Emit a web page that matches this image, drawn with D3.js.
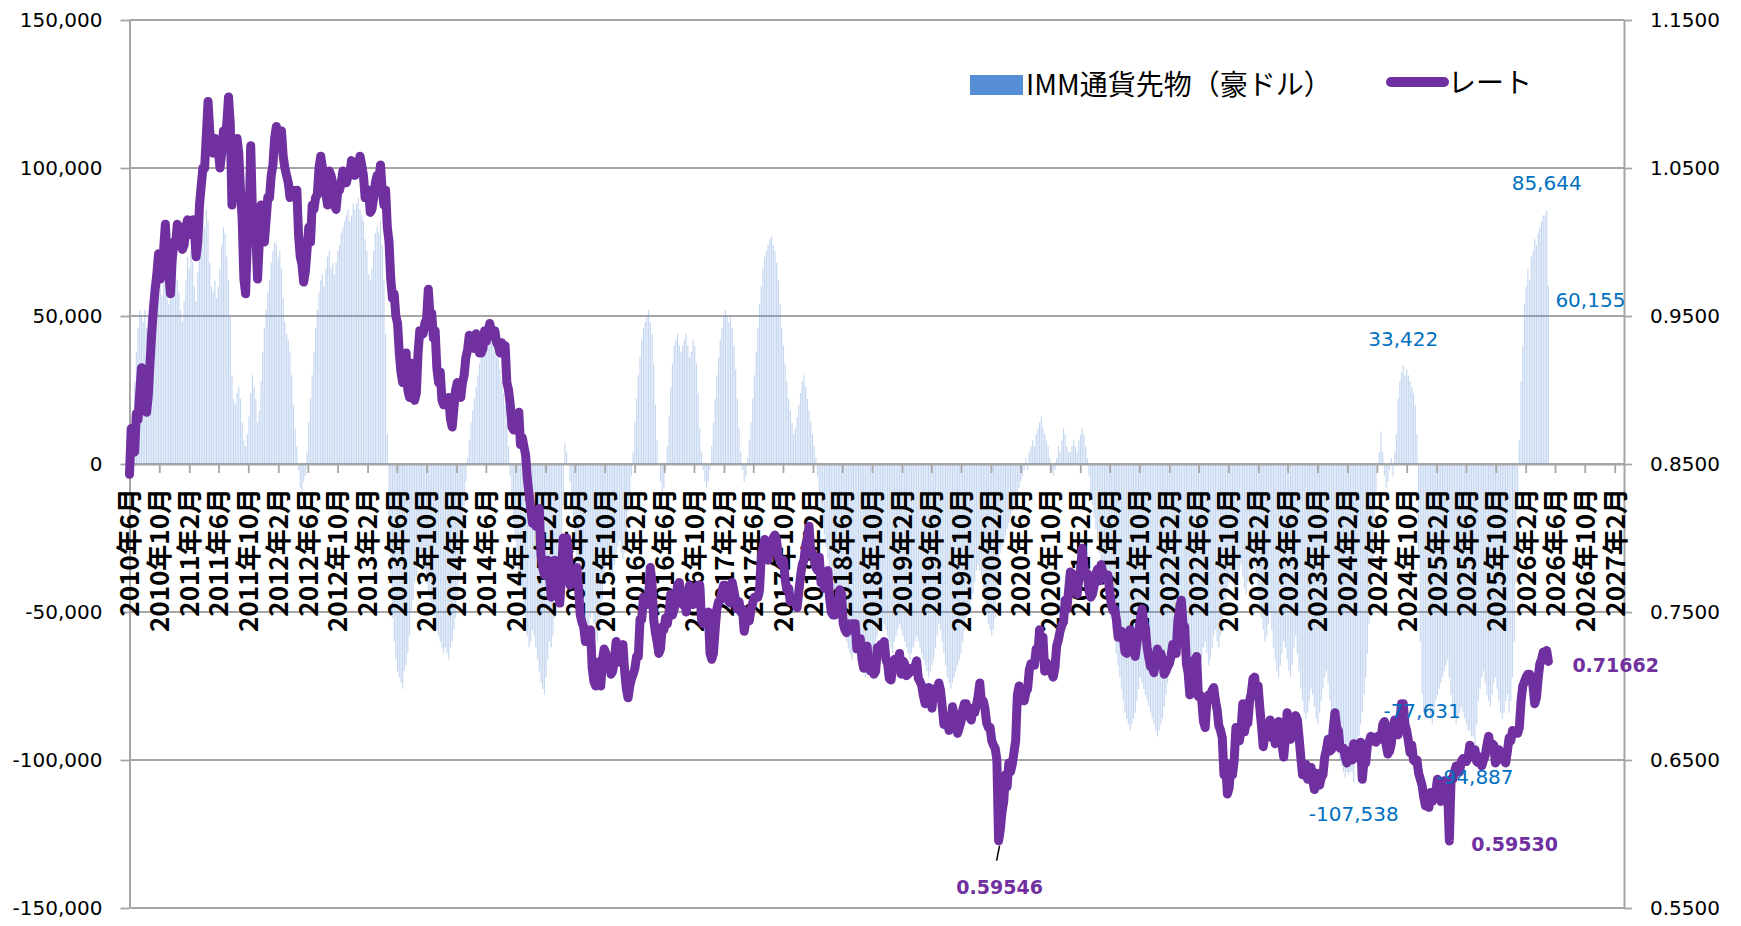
<!DOCTYPE html>
<html lang="ja">

<head>
    <meta charset="utf-8">
    <script src="https://d3js.org/d3.v7.min.js"></script>
    <style>
        body { margin: 0; background: #fff; }
    </style>
</head>

<body>
    <script>
        // IMM通貨先物（豪ドル）weekly net position, in thousands of contracts (Tuesday data)
        const imm2010 = [0, 8, 18, 28, 38, 46, 52, 50, 48, 52, 46, 50, 54, 56, 58, 55, 60, 58, 62, 57, 68, 74, 62, 54, 56, 60, 64, 66, 62];
        const imm2011 = [58, 52, 48, 55, 62, 70, 66, 72, 68, 60, 55, 65, 72, 78, 84, 80, 86, 82, 68, 60, 58, 62, 56, 60, 66, 74, 80, 78, 70, 62, 50, 30, 22, 20, 24, 26, 22, 14, 8, 6, 10, 16, 24, 30, 26, 22, 14, 18, 28, 38, 46, 52];
        const imm2012 = [58, 62, 68, 72, 75, 74, 70, 72, 66, 56, 48, 44, 42, 38, 30, 20, 12, 6, -2, -8, -10, -6, -4, 4, 14, 22, 30, 38, 46, 52, 58, 62, 64, 60, 66, 70, 72, 66, 68, 64, 68, 72, 74, 78, 80, 82, 84, 86, 82, 84, 88, 86];
        const imm2013 = [88, 90, 86, 84, 82, 76, 72, 64, 62, 66, 72, 78, 80, 78, 82, 74, 62, 44, 10, -20, -40, -52, -60, -66, -70, -72, -74, -76, -70, -68, -64, -58, -50, -46, -40, -38, -34, -30, -32, -34, -36, -40, -44, -46, -48, -50, -54, -56, -58, -60, -62, -64, -62];
        const imm2014 = [-64, -66, -62, -60, -56, -52, -46, -40, -32, -24, -14, -6, 2, 8, 14, 18, 22, 26, 30, 34, 38, 40, 44, 48, 46, 44, 42, 40, 38, 36, 36, 32, 28, 24, 20, 14, 6, -4, -12, -20, -26, -30, -36, -40, -44, -50, -54, -58, -62, -60, -56, -58];
        const imm2015 = [-62, -66, -70, -74, -76, -78, -72, -66, -60, -62, -58, -52, -48, -44, -36, -26, -14, 7, 4, 0, -6, -12, -18, -26, -32, -38, -42, -46, -50, -52, -54, -56, -52, -50, -54, -58, -60, -56, -52, -46, -40, -34, -30, -32, -36, -38, -34, -30, -28, -26, -30, -32];
        const imm2016 = [-30, -24, -16, -10, -4, 4, 14, 22, 30, 36, 42, 46, 48, 50, 52, 48, 44, 34, 20, 8, 0, -6, -10, -8, -2, 6, 16, 26, 34, 40, 42, 44, 40, 38, 40, 42, 44, 40, 36, 38, 42, 40, 34, 24, 12, 4, -2, -6, -8, -6, -2, 6];
        const imm2017 = [14, 22, 30, 36, 42, 46, 50, 52, 50, 48, 50, 46, 40, 32, 22, 12, 4, -2, -6, -4, 2, 8, 14, 22, 30, 38, 46, 54, 60, 66, 70, 72, 74, 76, 77, 74, 72, 68, 62, 54, 46, 40, 34, 28, 22, 18, 14, 10, 12, 16, 20, 24];
        const imm2018 = [28, 30, 26, 22, 18, 14, 10, 6, 2, -4, -10, -16, -20, -24, -28, -32, -36, -40, -44, -46, -48, -50, -52, -54, -56, -58, -60, -62, -64, -66, -64, -62, -60, -64, -66, -68, -70, -72, -70, -68, -66, -64, -62, -60, -58, -56, -54, -52, -54, -56, -58, -60];
        const imm2019 = [-62, -64, -60, -58, -56, -54, -56, -58, -60, -62, -64, -66, -64, -62, -60, -58, -60, -62, -64, -66, -68, -70, -72, -70, -68, -66, -62, -58, -54, -56, -60, -64, -68, -72, -74, -76, -74, -72, -70, -68, -66, -64, -60, -56, -52, -50, -48, -46, -44, -40, -36, -34, -36];
        const imm2020 = [-38, -42, -46, -50, -54, -56, -58, -56, -52, -44, -36, -30, -28, -26, -24, -22, -20, -18, -16, -14, -12, -10, -8, -6, -4, -2, 2, -2, 4, 6, 8, 6, 10, 12, 14, 16, 12, 10, 8, 6, 2, -2, -4, -2, 2, 6, 4, 8, 12, 10, 6, 4];
        const imm2021 = [4, 6, 8, 6, 4, 8, 10, 12, 10, 6, 2, -4, -10, -14, -18, -22, -26, -30, -34, -36, -38, -40, -44, -48, -52, -56, -60, -64, -68, -72, -76, -80, -84, -86, -88, -90, -88, -86, -84, -80, -76, -72, -74, -76, -78, -80, -82, -84, -86, -88, -90, -92];
        const imm2022 = [-90, -88, -86, -82, -78, -74, -70, -66, -62, -58, -54, -50, -48, -52, -58, -62, -66, -70, -72, -74, -76, -78, -76, -74, -70, -66, -62, -60, -64, -68, -66, -62, -58, -56, -60, -62, -58, -54, -50, -46, -42, -40, -38, -40, -42, -44, -40, -36, -34, -38, -42, -44];
        const imm2023 = [-40, -36, -32, -30, -34, -38, -44, -48, -52, -56, -60, -58, -54, -50, -56, -62, -66, -70, -72, -68, -64, -60, -62, -66, -70, -72, -68, -62, -58, -64, -70, -76, -80, -84, -86, -84, -80, -76, -78, -82, -86, -88, -84, -80, -76, -72, -70, -74, -80, -86, -90, -92];
        const imm2024 = [-94, -98, -100, -102, -104, -106, -104, -105, -104, -104, -107.538, -100, -96, -92, -88, -84, -78, -72, -64, -54, -44, -32, -22, -10, -2, 4, 11, 4, -4, -8, -6, -2, 2, -4, 4, 10, 22, 28, 31, 33.422, 30, 32, 30, 28, 26, 24, 20, 10, -30, -60, -77.631, -84, -86];
        const imm2025 = [-84, -82, -86, -88, -84, -80, -78, -76, -74, -72, -70, -68, -66, -72, -78, -82, -86, -88, -86, -84, -82, -84, -86, -88, -90, -90, -92, -92, -94.887, -88, -80, -76, -72, -70, -74, -78, -80, -82, -78, -74, -72, -76, -80, -84, -86, -84, -80, -78, -84, -80, -72, -60];
        const imm2026 = [-40, -10, 8, 28, 40, 54, 60, 66, 62, 70, 72, 76, 74, 78, 80, 82, 84, 84, 85.644, 60.155];

        // レート (AUD/USD) on the same Tuesdays
        const rate2010 = [0.843, 0.874, 0.860, 0.858, 0.884, 0.880, 0.898, 0.915, 0.905, 0.898, 0.885, 0.896, 0.918, 0.938, 0.955, 0.968, 0.978, 0.992, 0.975, 0.985, 0.995, 1.012, 0.990, 0.978, 0.965, 0.988, 1.000, 0.998, 1.012];
        const rate2011 = [1.010, 0.998, 0.995, 0.998, 1.010, 1.015, 1.005, 1.012, 1.015, 1.008, 0.990, 1.000, 1.025, 1.038, 1.050, 1.050, 1.072, 1.095, 1.075, 1.062, 1.060, 1.070, 1.065, 1.062, 1.050, 1.060, 1.075, 1.072, 1.080, 1.098, 1.080, 1.025, 1.050, 1.050, 1.070, 1.060, 1.035, 1.015, 0.975, 0.965, 1.000, 1.010, 1.065, 1.020, 1.010, 1.005, 0.975, 1.000, 1.025, 1.005, 1.000, 1.015];
        const rate2012 = [1.030, 1.030, 1.045, 1.052, 1.070, 1.078, 1.068, 1.070, 1.075, 1.058, 1.050, 1.045, 1.040, 1.030, 1.032, 1.035, 1.030, 1.035, 1.005, 0.990, 0.985, 0.973, 0.980, 0.995, 1.010, 1.000, 1.025, 1.022, 1.030, 1.032, 1.050, 1.058, 1.050, 1.045, 1.033, 1.025, 1.048, 1.045, 1.040, 1.025, 1.022, 1.035, 1.035, 1.040, 1.048, 1.040, 1.040, 1.045, 1.045, 1.055, 1.052, 1.045];
        const rate2013 = [1.050, 1.050, 1.058, 1.052, 1.045, 1.030, 1.030, 1.035, 1.020, 1.022, 1.030, 1.040, 1.045, 1.042, 1.052, 1.035, 1.025, 1.035, 1.010, 1.000, 0.975, 0.962, 0.965, 0.950, 0.945, 0.925, 0.912, 0.905, 0.920, 0.925, 0.900, 0.895, 0.918, 0.900, 0.893, 0.898, 0.925, 0.940, 0.940, 0.938, 0.945, 0.948, 0.968, 0.950, 0.952, 0.935, 0.940, 0.915, 0.905, 0.912, 0.893, 0.890, 0.892];
        const rate2014 = [0.892, 0.895, 0.880, 0.875, 0.888, 0.900, 0.905, 0.897, 0.895, 0.905, 0.910, 0.922, 0.927, 0.937, 0.935, 0.932, 0.928, 0.938, 0.935, 0.925, 0.925, 0.928, 0.940, 0.933, 0.940, 0.945, 0.938, 0.936, 0.940, 0.932, 0.930, 0.925, 0.932, 0.928, 0.930, 0.905, 0.900, 0.890, 0.875, 0.873, 0.873, 0.880, 0.885, 0.863, 0.868, 0.862, 0.856, 0.840, 0.830, 0.820, 0.810, 0.818];
        const rate2015 = [0.808, 0.817, 0.820, 0.788, 0.780, 0.775, 0.782, 0.785, 0.775, 0.760, 0.762, 0.785, 0.762, 0.765, 0.756, 0.775, 0.800, 0.792, 0.800, 0.790, 0.768, 0.772, 0.778, 0.776, 0.780, 0.766, 0.748, 0.743, 0.740, 0.730, 0.733, 0.735, 0.738, 0.712, 0.703, 0.700, 0.716, 0.706, 0.700, 0.718, 0.725, 0.722, 0.712, 0.718, 0.708, 0.710, 0.718, 0.730, 0.722, 0.716, 0.722, 0.728];
        const rate2016 = [0.710, 0.698, 0.692, 0.700, 0.705, 0.708, 0.712, 0.720, 0.720, 0.745, 0.745, 0.760, 0.760, 0.755, 0.760, 0.780, 0.770, 0.745, 0.736, 0.730, 0.722, 0.725, 0.740, 0.738, 0.746, 0.742, 0.750, 0.762, 0.748, 0.752, 0.760, 0.768, 0.770, 0.762, 0.755, 0.762, 0.750, 0.760, 0.768, 0.762, 0.755, 0.765, 0.764, 0.768, 0.768, 0.745, 0.742, 0.748, 0.748, 0.750, 0.722, 0.718];
        const rate2017 = [0.722, 0.738, 0.752, 0.757, 0.758, 0.764, 0.768, 0.768, 0.765, 0.757, 0.756, 0.770, 0.764, 0.758, 0.752, 0.757, 0.750, 0.752, 0.737, 0.744, 0.747, 0.744, 0.752, 0.756, 0.760, 0.760, 0.760, 0.765, 0.788, 0.793, 0.799, 0.790, 0.785, 0.792, 0.795, 0.800, 0.802, 0.798, 0.787, 0.785, 0.782, 0.785, 0.772, 0.765, 0.766, 0.757, 0.758, 0.758, 0.758, 0.753, 0.764, 0.774];
        const rate2018 = [0.782, 0.785, 0.795, 0.800, 0.808, 0.790, 0.790, 0.785, 0.780, 0.778, 0.787, 0.770, 0.770, 0.766, 0.776, 0.778, 0.760, 0.750, 0.748, 0.748, 0.758, 0.755, 0.765, 0.762, 0.742, 0.738, 0.736, 0.742, 0.738, 0.742, 0.742, 0.742, 0.725, 0.732, 0.732, 0.718, 0.712, 0.725, 0.727, 0.713, 0.710, 0.714, 0.708, 0.710, 0.726, 0.722, 0.728, 0.722, 0.730, 0.718, 0.715, 0.705];
        const rate2019 = [0.704, 0.712, 0.718, 0.712, 0.715, 0.722, 0.708, 0.717, 0.715, 0.707, 0.708, 0.710, 0.712, 0.710, 0.713, 0.717, 0.705, 0.703, 0.700, 0.693, 0.688, 0.692, 0.699, 0.691, 0.685, 0.698, 0.698, 0.695, 0.702, 0.697, 0.686, 0.674, 0.678, 0.676, 0.670, 0.672, 0.686, 0.680, 0.676, 0.668, 0.672, 0.676, 0.684, 0.688, 0.688, 0.684, 0.679, 0.677, 0.685, 0.682, 0.687, 0.693, 0.702];
        const rate2020 = [0.688, 0.690, 0.685, 0.675, 0.672, 0.672, 0.663, 0.660, 0.658, 0.650, 0.59546, 0.603, 0.615, 0.622, 0.640, 0.632, 0.648, 0.642, 0.647, 0.655, 0.663, 0.694, 0.700, 0.690, 0.696, 0.690, 0.696, 0.698, 0.711, 0.715, 0.714, 0.714, 0.725, 0.721, 0.738, 0.720, 0.733, 0.710, 0.716, 0.713, 0.712, 0.709, 0.706, 0.712, 0.727, 0.731, 0.737, 0.741, 0.743, 0.758, 0.752, 0.764];
        const rate2021 = [0.777, 0.776, 0.773, 0.772, 0.762, 0.772, 0.778, 0.793, 0.780, 0.774, 0.776, 0.764, 0.760, 0.762, 0.768, 0.776, 0.779, 0.771, 0.782, 0.777, 0.775, 0.774, 0.775, 0.765, 0.755, 0.751, 0.752, 0.745, 0.733, 0.737, 0.737, 0.734, 0.723, 0.722, 0.731, 0.738, 0.734, 0.725, 0.720, 0.729, 0.736, 0.745, 0.752, 0.743, 0.739, 0.726, 0.719, 0.713, 0.713, 0.709, 0.718, 0.725];
        const rate2022 = [0.720, 0.722, 0.718, 0.708, 0.710, 0.713, 0.715, 0.720, 0.728, 0.728, 0.722, 0.744, 0.752, 0.758, 0.742, 0.740, 0.715, 0.709, 0.694, 0.702, 0.711, 0.718, 0.720, 0.693, 0.694, 0.690, 0.676, 0.672, 0.690, 0.694, 0.693, 0.697, 0.699, 0.690, 0.684, 0.673, 0.670, 0.665, 0.640, 0.648, 0.627, 0.631, 0.645, 0.640, 0.650, 0.672, 0.663, 0.663, 0.670, 0.688, 0.669, 0.675];
        const rate2023 = [0.675, 0.690, 0.695, 0.705, 0.706, 0.693, 0.700, 0.685, 0.673, 0.659, 0.667, 0.667, 0.667, 0.677, 0.665, 0.672, 0.661, 0.665, 0.676, 0.665, 0.660, 0.652, 0.665, 0.682, 0.678, 0.664, 0.669, 0.674, 0.680, 0.677, 0.665, 0.652, 0.640, 0.642, 0.647, 0.637, 0.641, 0.645, 0.636, 0.630, 0.641, 0.636, 0.633, 0.638, 0.640, 0.652, 0.657, 0.664, 0.656, 0.657, 0.671, 0.682];
        const rate2024 = [0.672, 0.670, 0.658, 0.658, 0.658, 0.652, 0.648, 0.656, 0.650, 0.650, 0.661, 0.655, 0.653, 0.651, 0.662, 0.637, 0.649, 0.648, 0.660, 0.662, 0.666, 0.664, 0.665, 0.662, 0.666, 0.665, 0.664, 0.674, 0.676, 0.660, 0.654, 0.656, 0.661, 0.673, 0.677, 0.672, 0.667, 0.677, 0.688, 0.688, 0.674, 0.670, 0.663, 0.655, 0.660, 0.650, 0.649, 0.650, 0.641, 0.637, 0.633, 0.625, 0.619];
        const rate2025 = [0.625, 0.618, 0.628, 0.622, 0.627, 0.628, 0.637, 0.628, 0.622, 0.628, 0.636, 0.631, 0.628, 0.5953, 0.637, 0.637, 0.642, 0.646, 0.645, 0.642, 0.649, 0.651, 0.651, 0.649, 0.652, 0.660, 0.652, 0.654, 0.657, 0.649, 0.648, 0.652, 0.646, 0.650, 0.653, 0.660, 0.666, 0.659, 0.661, 0.660, 0.648, 0.650, 0.657, 0.651, 0.654, 0.650, 0.648, 0.656, 0.665, 0.663, 0.670, 0.668];
        const rate2026 = [0.668, 0.668, 0.672, 0.690, 0.700, 0.703, 0.706, 0.708, 0.708, 0.705, 0.700, 0.688, 0.692, 0.705, 0.715, 0.718, 0.723, 0.720, 0.724, 0.71662];

        // first Tuesday of each block of weekly data
        const weekStart = {
            2010: "2010-06-15", 2011: "2011-01-04", 2012: "2012-01-03", 2013: "2013-01-01",
            2014: "2014-01-07", 2015: "2015-01-06", 2016: "2016-01-05", 2017: "2017-01-03",
            2018: "2018-01-02", 2019: "2019-01-01", 2020: "2020-01-07", 2021: "2021-01-05",
            2022: "2022-01-04", 2023: "2023-01-03", 2024: "2024-01-02", 2025: "2025-01-07",
            2026: "2026-01-06"
        };
        // the sheet's date column runs two weeks ahead of the Tuesday, so points sit 14 days to the left
        const sheetLagDays = 14;

        const immByYear = {
            2010: imm2010, 2011: imm2011, 2012: imm2012, 2013: imm2013, 2014: imm2014, 2015: imm2015,
            2016: imm2016, 2017: imm2017, 2018: imm2018, 2019: imm2019, 2020: imm2020, 2021: imm2021,
            2022: imm2022, 2023: imm2023, 2024: imm2024, 2025: imm2025, 2026: imm2026
        };
        const rateByYear = {
            2010: rate2010, 2011: rate2011, 2012: rate2012, 2013: rate2013, 2014: rate2014, 2015: rate2015,
            2016: rate2016, 2017: rate2017, 2018: rate2018, 2019: rate2019, 2020: rate2020, 2021: rate2021,
            2022: rate2022, 2023: rate2023, 2024: rate2024, 2025: rate2025, 2026: rate2026
        };

        const leftTicks = [-150000, -100000, -50000, 0, 50000, 100000, 150000];
        const rightTicks = [0.55, 0.65, 0.75, 0.85, 0.95, 1.05, 1.15];
        const legendNames = ["IMM通貨先物（豪ドル）", "レート"];

        // labelled points
        const immNotes = [
            { date: "2026-05-12", dx: 0, dy: -27, anchor: "middle" },
            { date: "2026-05-19", dx: 7, dy: 14, anchor: "start" },
            { date: "2024-10-01", dx: 0, dy: -26, anchor: "middle" },
            { date: "2024-12-17", dx: 0, dy: 17, anchor: "middle" },
            { date: "2025-07-22", dx: 0, dy: 32, anchor: "middle" },
            { date: "2024-03-12", dx: 0, dy: 32, anchor: "middle" }
        ];
        const rateNotes = [
            { date: "2020-03-17", dx: 1, dy: 47, anchor: "middle", leader: true },
            { date: "2025-04-08", dx: 22, dy: 3, anchor: "start" },
            { date: "2026-05-19", dx: 24, dy: 4, anchor: "start" }
        ];

        // build the weekly table
        const DAY = 864e5;
        const rows = [];
        Object.keys(weekStart).forEach(yr => {
            const t0 = Date.parse(weekStart[yr]);
            immByYear[yr].forEach((v, i) => {
                const t = t0 + i * 7 * DAY;
                rows.push({ date: new Date(t), plotDate: new Date(t - sheetLagDays * DAY), imm: Math.round(v * 1000), rate: rateByYear[yr][i] });
            });
        });
        const byDate = new Map(rows.map(d => [d.date.toISOString().slice(0, 10), d]));

        const W = 1741, H = 926;
        const plotL = 129.5, plotR = 1624, plotT = 20, plotB = 908;
        const gridColor = "#a6a6a6";

        const svg = d3.select("body").append("svg")
            .attr("width", W).attr("height", H)
            .style("background", "#fff");

        const x = d3.scaleUtc()
            .domain([new Date(Date.UTC(2010, 5, 1)), new Date(Date.UTC(2027, 2, 11))])
            .range([plotL, plotR]);
        const xp = d => x(d.plotDate);
        const yL = d3.scaleLinear().domain([-150000, 150000]).range([plotB, plotT]);
        const yR = d3.scaleLinear().domain([0.55, 1.15]).range([plotB, plotT]);

        const fmtInt = d => d3.format(",")(d).replace("\u2212", "-");

        // gridlines
        svg.append("g").selectAll("line").data(leftTicks).join("line")
            .attr("x1", plotL).attr("x2", plotR)
            .attr("y1", d => yL(d)).attr("y2", d => yL(d))
            .attr("stroke", gridColor).attr("stroke-width", 1.8);

        // bars
        svg.append("g").selectAll("rect").data(rows).join("rect")
            .attr("x", d => xp(d) - 0.6)
            .attr("width", 1.2)
            .attr("y", d => yL(Math.max(0, d.imm)))
            .attr("height", d => Math.abs(yL(d.imm) - yL(0)))
            .attr("fill", "#5b8fd6")
            .attr("fill-opacity", 0.35);

        // left axis
        const axL = svg.append("g").attr("transform", `translate(${plotL},0)`)
            .call(d3.axisLeft(yL).tickValues(leftTicks).tickFormat(fmtInt).tickSize(9).tickSizeOuter(0).tickPadding(18));
        // right axis
        const axR = svg.append("g").attr("transform", `translate(${plotR},0)`)
            .call(d3.axisRight(yR).tickValues(rightTicks).tickFormat(d3.format(".4f")).tickSize(8).tickSizeOuter(0).tickPadding(18));
        [axL, axR].forEach(ax => {
            ax.select(".domain").attr("stroke", gridColor).attr("stroke-width", 2);
            ax.selectAll(".tick line").attr("stroke", gridColor).attr("stroke-width", 1.8);
            ax.selectAll("text").attr("font-family", "DejaVu Sans").attr("font-size", 20).attr("fill", "#000");
        });

        // date axis on the zero line, a tick every 4 months
        const monthTicks = d3.utcMonth.range(new Date(Date.UTC(2010, 5, 1)), new Date(Date.UTC(2027, 2, 2)), 4);
        const axX = svg.append("g").attr("transform", `translate(0,${yL(0)})`)
            .call(d3.axisBottom(x).tickValues(monthTicks).tickSize(9).tickSizeOuter(0)
                .tickFormat(d => `${d.getUTCFullYear()}年${d.getUTCMonth() + 1}月`));
        axX.select(".domain").attr("stroke", gridColor).attr("stroke-width", 2);
        axX.selectAll(".tick line").attr("stroke", gridColor).attr("stroke-width", 1.8);
        axX.selectAll("text")
            .attr("transform", "rotate(-90)")
            .attr("x", -24).attr("y", 0).attr("dy", "0.36em")
            .attr("text-anchor", "end")
            .attr("font-family", "'Noto Sans CJK JP', sans-serif")
            .attr("font-weight", "bold")
            .attr("font-size", 26)
            .attr("fill", "#000");

        // rate line
        svg.append("path")
            .datum(rows)
            .attr("fill", "none")
            .attr("stroke", "#7030A0")
            .attr("stroke-width", 9)
            .attr("stroke-linejoin", "round")
            .attr("stroke-linecap", "round")
            .attr("d", d3.line().x(xp).y(d => yR(d.rate)));

        // data labels
        immNotes.forEach(n => {
            const d = byDate.get(n.date);
            svg.append("text")
                .attr("x", xp(d) + n.dx).attr("y", yL(d.imm) + n.dy).attr("dy", "0.35em")
                .attr("text-anchor", n.anchor)
                .attr("font-family", "DejaVu Sans").attr("font-size", 20)
                .attr("fill", "#0070C0")
                .text(fmtInt(d.imm));
        });
        rateNotes.forEach(n => {
            const d = byDate.get(n.date);
            const px = xp(d), py = yR(d.rate);
            if (n.leader) {
                svg.append("line")
                    .attr("x1", px + 1).attr("y1", py + 5).attr("x2", px - 2).attr("y2", py + 20)
                    .attr("stroke", "#000").attr("stroke-width", 1.5);
            }
            svg.append("text")
                .attr("x", px + n.dx).attr("y", py + n.dy).attr("dy", "0.35em")
                .attr("text-anchor", n.anchor)
                .attr("font-family", "DejaVu Sans").attr("font-weight", "bold").attr("font-size", 19)
                .attr("fill", "#7030A0")
                .text(d3.format(".5f")(d.rate));
        });

        // legend
        const lg = svg.append("g").attr("font-family", "'Noto Sans CJK JP', sans-serif").attr("font-size", 28);
        lg.append("rect").attr("x", 970).attr("y", 75).attr("width", 53).attr("height", 20).attr("fill", "#558ED5");
        lg.append("text").attr("x", 1026).attr("y", 95).attr("fill", "#000").text(legendNames[0]);
        lg.append("line").attr("x1", 1391).attr("x2", 1444).attr("y1", 82).attr("y2", 82)
            .attr("stroke", "#7030A0").attr("stroke-width", 10).attr("stroke-linecap", "round");
        lg.append("text").attr("x", 1448).attr("y", 93).attr("fill", "#000").text(legendNames[1]);
    </script>
</body>

</html>
